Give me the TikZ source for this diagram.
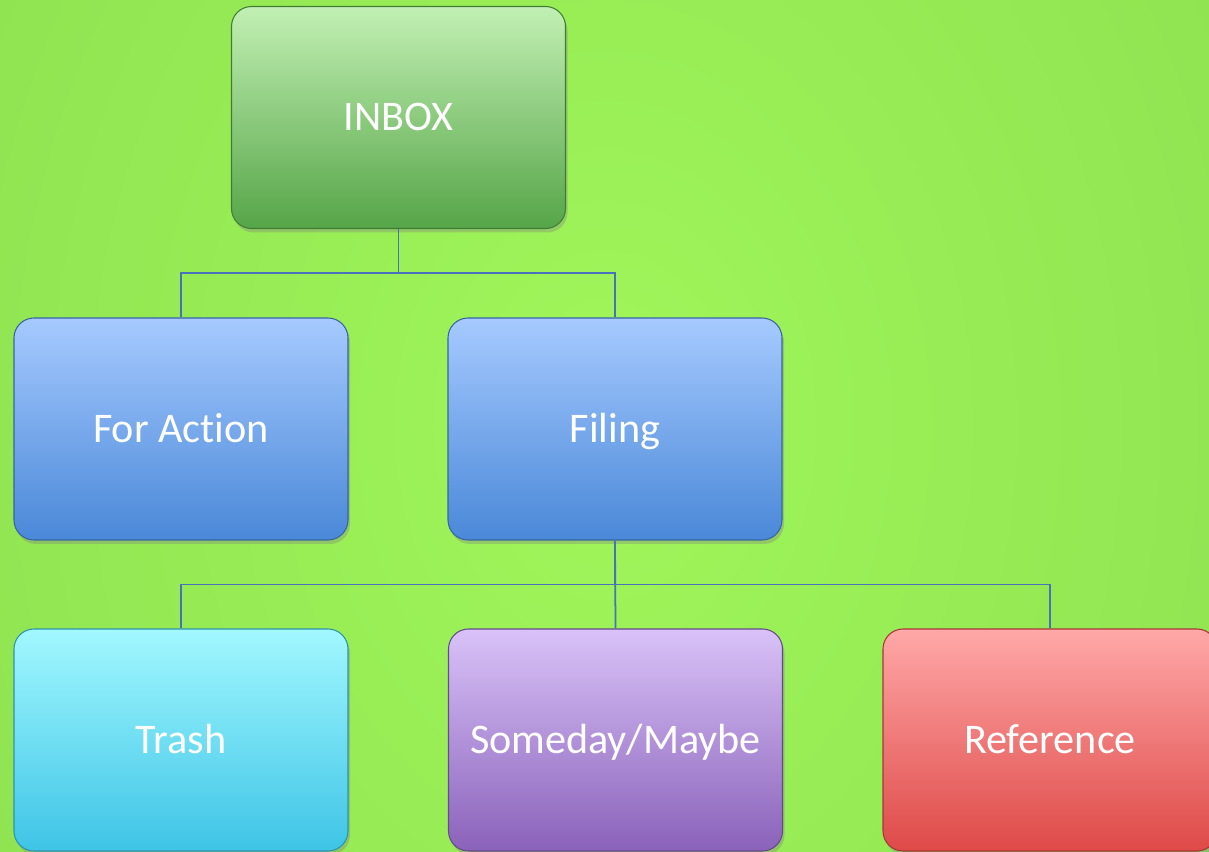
\documentclass[tikz,border=0pt]{standalone}
\usepackage{fontspec}
\setmainfont{Carlito}[Ligatures={NoCommon,NoRare}]
\usetikzlibrary{shadows}

\definecolor{bgin}{HTML}{A0F65A}
\definecolor{bgout}{HTML}{82D44A}
\definecolor{linkc}{HTML}{4A72BC}
\definecolor{greentop}{HTML}{C2F0B4}
\definecolor{greenbot}{HTML}{56A548}
\definecolor{bluetop}{HTML}{A6CAFF}
\definecolor{bluebot}{HTML}{4A88D8}
\definecolor{cyantop}{HTML}{A2F8FF}
\definecolor{cyanbot}{HTML}{3EC4E6}
\definecolor{violtop}{HTML}{D9C2F8}
\definecolor{violbot}{HTML}{8A62BA}
\definecolor{redtop}{HTML}{FFA8A8}
\definecolor{redbot}{HTML}{DE4A48}

\begin{document}
\begin{tikzpicture}[
  box/.style={rounded corners=0.4cm, minimum width=6.68cm, minimum height=4.44cm,
    inner sep=0pt, top color=#1top, bottom color=#1bot, draw=#1bot!75!black, line width=0.6pt,
    text=white, font=\fontsize{24}{28}\selectfont, text height=15pt, text depth=0pt,
    drop shadow={opacity=0.35, shadow xshift=0.04cm, shadow yshift=-0.08cm}},
  link/.style={draw=linkc, line width=1pt}
]
  \clip (0,0) rectangle (24.18,-17.04);
  \shade[inner color=bgin, outer color=bgout] (-13.9,25.5) rectangle (38.1,-42.5);

  \node[box=green] (inbox) at (7.97,-2.35) {INBOX};
  \node[box=blue] (act) at (3.62,-8.58) {For Action};
  \node[box=blue] (fil) at (12.30,-8.58) {Filing};
  \node[box=cyan] (trash) at (3.62,-14.80) {Trash};
  \node[box=viol] (some) at (12.31,-14.80) {Someday/Maybe};
  \node[box=red] (ref) at (21.0,-14.80) {Reference};

  % tree links
  \draw[link] (inbox.south) -- ++(0,-0.88) -| (act.north);
  \draw[link] (inbox.south) -- ++(0,-0.88) -| (fil.north);
  \draw[link] (fil.south) -- ++(0,-0.88) -| (trash.north);
  \draw[link] (fil.south) -- (some.north);
  \draw[link] (fil.south) -- ++(0,-0.88) -| (ref.north);
\end{tikzpicture}
\end{document}
